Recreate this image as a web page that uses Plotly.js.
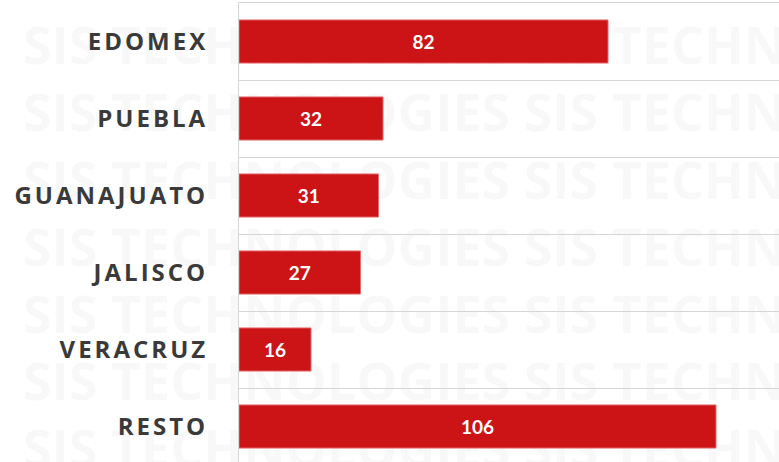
<!DOCTYPE html>
<html>
<head>
<meta charset="utf-8">
<script src="https://cdn.plot.ly/plotly-3.0.1.min.js"></script>
<style>
  html, body { margin: 0; padding: 0; background: #ffffff; }
  #chart { width: 779px; height: 462px; }
  .ytick text { letter-spacing: 3px; }
</style>
</head>
<body>
<div id="chart"></div>
<script>
// Data
const categories = ['EDOMEX', 'PUEBLA', 'GUANAJUATO', 'JALISCO', 'VERACRUZ', 'RESTO'];
const values = [82, 32, 31, 27, 16, 106];
const watermarkText = 'SIS TECHNOLOGIES SIS TECHNOLOGIES';
const watermarkRows = [0.902, 0.756, 0.610, 0.464, 0.318, 0.172, 0.026];

const trace = {
  type: 'bar',
  orientation: 'h',
  y: categories,
  x: values,
  marker: { color: '#cc1416', line: { color: '#e46a6b', width: 1 } },
  text: values.map(String),
  textposition: 'inside',
  insidetextanchor: 'middle',
  textfont: { family: 'Lato, "Open Sans", sans-serif', size: 19, color: '#ffffff', weight: 700 },
  hoverinfo: 'skip',
  cliponaxis: false
};

const shapes = watermarkRows.map(yc => ({
  type: 'rect', xref: 'paper', yref: 'paper', layer: 'below',
  x0: -0.4056, x1: 1.2, y0: yc - 0.01, y1: yc + 0.01,
  line: { width: 0 }, fillcolor: 'rgba(0,0,0,0)',
  label: {
    text: '<b>' + watermarkText + '</b>',
    textposition: 'middle left',
    padding: 0,
    font: { family: '"Open Sans", sans-serif', size: 52, color: 'rgba(0,0,0,0.028)' }
  }
}));

const layout = {
  width: 779,
  height: 462,
  margin: { l: 239, r: 0, t: 3, b: 0, pad: 0 },
  paper_bgcolor: '#ffffff',
  plot_bgcolor: 'rgba(0,0,0,0)',
  showlegend: false,
  bargap: 0.44,
  xaxis: {
    range: [0, 120],
    side: 'top',
    showgrid: false,
    zeroline: false,
    showline: true,
    linecolor: '#d6d6d6',
    linewidth: 1,
    showticklabels: false,
    ticks: ''
  },
  yaxis: {
    type: 'category',
    categoryorder: 'array',
    categoryarray: categories,
    range: [5.461, -0.5],
    tickson: 'boundaries',
    showgrid: true,
    gridcolor: '#d6d6d6',
    gridwidth: 1,
    showline: true,
    linecolor: '#d6d6d6',
    linewidth: 1,
    zeroline: false,
    ticks: '',
    ticklabelstandoff: 25,
    tickfont: { family: '"Open Sans", sans-serif', size: 24, color: '#3a3a3a', weight: 700 }
  },
  shapes: shapes
};

Plotly.newPlot('chart', [trace], layout, { displayModeBar: false, staticPlot: true });
</script>
</body>
</html>
